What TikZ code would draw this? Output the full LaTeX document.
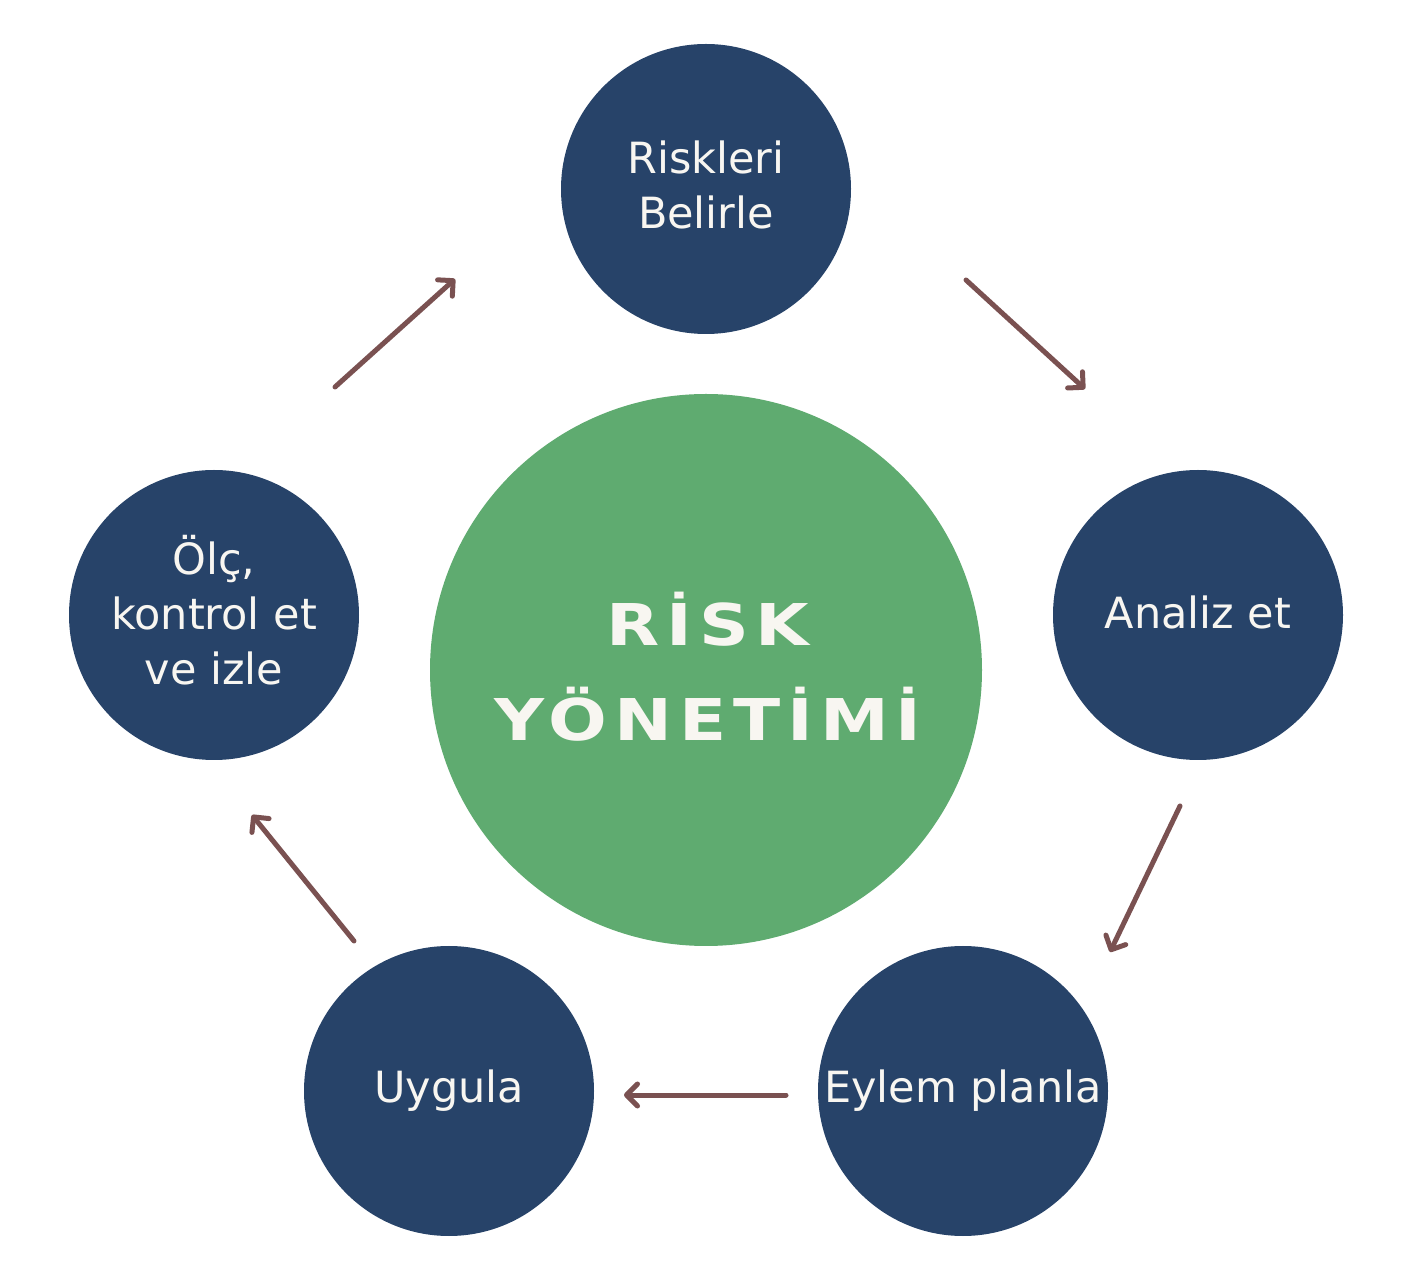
\documentclass[tikz,border=0pt]{standalone}
\usepackage{fontspec}
\usepackage{tikz}
\usetikzlibrary{arrows.meta}
\newfontfamily\labelfont{DejaVu Sans}
\newfontfamily\titlefont[FakeStretch=1.2,LetterSpace=12]{DejaVu Sans}
\definecolor{stepblue}{RGB}{39,67,105}
\definecolor{hubgreen}{RGB}{95,171,112}
\definecolor{flowbrown}{RGB}{122,81,81}
\definecolor{offwhite}{RGB}{248,246,241}
\tikzset{
  stepcircle/.style={circle, fill=stepblue, draw=none, minimum size=145pt, inner sep=0pt},
  hubcircle/.style={circle, fill=hubgreen, draw=none, minimum size=276pt, inner sep=0pt},
  steptext/.style={text=offwhite, align=center, inner sep=0pt,
    font=\labelfont\fontsize{21.5}{27.5}\selectfont},
  hubtext/.style={text=offwhite, align=center, inner sep=0pt,
    font=\titlefont\bfseries\fontsize{28.8}{47.5}\selectfont},
  flow/.style={draw=flowbrown, line width=2.5pt, line cap=round,
    -{Straight Barb[length=5.5pt,width=11pt,line width=2.5pt,round]}}
}
\begin{document}
\begin{tikzpicture}[x=0.5pt,y=0.5pt,yscale=-1,xscale=1]
		\useasboundingbox (0,0) rectangle (1410,1272);
		
		%Shape: Circle [id:hub] 
		\node (hub) [hubcircle] at (706,670) {};
		%Shape: Circle [id:belirle] 
		\node (belirle) [stepcircle] at (706,189) {};
		%Shape: Circle [id:analiz] 
		\node (analiz) [stepcircle] at (1198,615) {};
		%Shape: Circle [id:eylem] 
		\node (eylem) [stepcircle] at (963,1091) {};
		%Shape: Circle [id:uygula] 
		\node (uygula) [stepcircle] at (449,1091) {};
		%Shape: Circle [id:izle] 
		\node (izle) [stepcircle] at (214,615) {};
		
		% Text Node
		\node (hublabel) [hubtext, yshift=1.5pt, xshift=1pt] at (hub.center) {R\.ISK\\Y\"ONET\.IM\.I};
		% Text Node
		\node (belirlelabel) [steptext, yshift=2pt] at (belirle.center) {Riskleri\\Belirle};
		% Text Node
		\node (analizlabel) [steptext, yshift=1.5pt] at (analiz.center) {Analiz et};
		% Text Node
		\node (eylemlabel) [steptext] at (eylem.center) {Eylem planla};
		% Text Node
		\node (uygulalabel) [steptext] at (uygula.center) {Uygula};
		% Text Node
		\node (izlelabel) [steptext, yshift=2.5pt] at (izle.center) {Ölç,\\kontrol et\\ve izle};
		
		%Straight Lines [id:belirle-analiz] 
		\coordinate (ba1) at (966,280);
		\coordinate (ba2) at (1085,389);
		\draw [flow] (ba1) -- (ba2);
		%Straight Lines [id:analiz-eylem] 
		\coordinate (ae1) at (1180,806);
		\coordinate (ae2) at (1110,952);
		\draw [flow] (ae1) -- (ae2);
		%Straight Lines [id:eylem-uygula] 
		\coordinate (eu1) at (786,1095);
		\coordinate (eu2) at (624,1095);
		\draw [flow] (eu1) -- (eu2);
		%Straight Lines [id:uygula-izle] 
		\coordinate (ui1) at (354,941);
		\coordinate (ui2) at (252,815);
		\draw [flow] (ui1) -- (ui2);
		%Straight Lines [id:izle-belirle] 
		\coordinate (ib1) at (335,387);
		\coordinate (ib2) at (455,279);
		\draw [flow] (ib1) -- (ib2);
		
\end{tikzpicture}
\end{document}
